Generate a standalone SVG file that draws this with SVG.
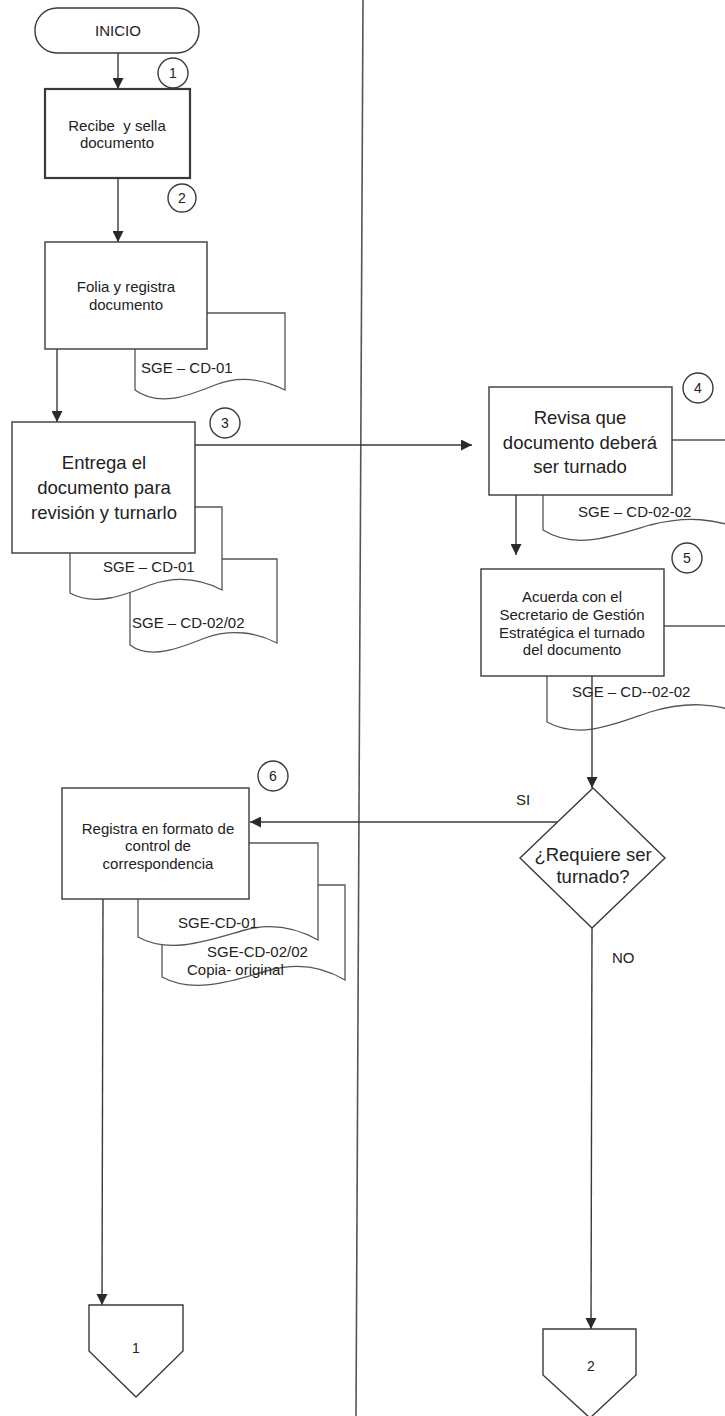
<svg xmlns="http://www.w3.org/2000/svg" width="725" height="1416" viewBox="0 0 725 1416">
<style>
.shape{fill:#fff;stroke:#3a3a3a;stroke-width:1.4}
.thick{stroke-width:2.2}
.doc{fill:#fff;stroke:#555;stroke-width:1.3}
.line{fill:none;stroke:#3a3a3a;stroke-width:1.4}
.t{font-family:"Liberation Sans",Arial,sans-serif;font-size:15px;fill:#222;white-space:pre}
.c{text-anchor:middle}
.big{font-size:18.5px}
.num{font-family:"Liberation Sans",Arial,sans-serif;font-size:14px;fill:#222;text-anchor:middle}
</style>
<defs>
<marker id="arr" viewBox="0 0 10 10" refX="10" refY="5" markerWidth="12" markerHeight="11" markerUnits="userSpaceOnUse" orient="auto">
<path d="M0,0 L10,5 L0,10 Z" fill="#2a2a2a"/>
</marker>
</defs>
<rect width="725" height="1416" fill="#fff"/>
<line x1="363" y1="0" x2="356" y2="1416" stroke="#555" stroke-width="1.6"/>

<g id="inicio">
<rect class="shape" x="35" y="8" width="164" height="45" rx="22"/>
<text class="t c" x="118" y="36">INICIO</text>
</g>
<g id="step1">
<rect class="shape thick" x="45" y="89" width="145" height="89"/>
<text class="t c" x="117" y="131">Recibe&#160; y sella</text>
<text class="t c" x="117" y="148">documento</text>
<circle class="shape" cx="173" cy="73" r="15"/>
<text class="num" x="173" y="78">1</text>
</g>
<g id="step2">
<path class="doc" d="M135,313 H285 V390 C265,380 240,375 215,385 C190,395 160,408 135,390 Z"/>
<text class="t" x="141" y="373">SGE – CD-01</text>
<rect class="shape" x="45" y="242" width="162" height="107"/>
<text class="t c" x="126" y="292">Folia y registra</text>
<text class="t c" x="126" y="310">documento</text>
<circle class="shape" cx="182" cy="198" r="14"/>
<text class="num" x="182" y="203">2</text>
</g>
<g id="step3">
<path class="doc" d="M130,559 H277 V643 C258,633 232,628 205,638 C180,648 150,660 130,645 Z"/>
<text class="t" x="132" y="628">SGE – CD-02/02</text>
<path class="doc" d="M70,507 H222 V590 C203,580 178,575 150,585 C125,595 95,607 70,593 Z"/>
<text class="t" x="103" y="572">SGE – CD-01</text>
<rect class="shape" x="12" y="422" width="183" height="131"/>
<text class="t c big" x="104" y="469">Entrega el</text>
<text class="t c big" x="104" y="494">documento para</text>
<text class="t c big" x="104" y="519">revisión y turnarlo</text>
<circle class="shape" cx="225" cy="423" r="15"/>
<text class="num" x="225" y="428">3</text>
</g>
<g id="step4">
<path class="doc" d="M543,440 H740 V528 C715,520 690,515 650,525 C610,537 575,550 543,530 Z"/>
<text class="t" x="578" y="517">SGE – CD-02-02</text>
<rect class="shape" x="489" y="387" width="183" height="108"/>
<text class="t c big" x="580" y="424">Revisa que</text>
<text class="t c big" x="580" y="449">documento deberá</text>
<text class="t c big" x="580" y="473">ser turnado</text>
<circle class="shape" cx="698" cy="388" r="15"/>
<text class="num" x="698" y="393">4</text>
</g>
<g id="step5">
<path class="doc" d="M547,626 H740 V712 C715,705 690,700 650,712 C615,724 580,740 547,722 Z"/>
<text class="t" x="572" y="697">SGE – CD--02-02</text>
<rect class="shape" x="481" y="569" width="183" height="107"/>
<text class="t c" x="572" y="602">Acuerda con el</text>
<text class="t c" x="572" y="620">Secretario de Gestión</text>
<text class="t c" x="572" y="638">Estratégica el turnado</text>
<text class="t c" x="572" y="655">del documento</text>
<circle class="shape" cx="687" cy="558" r="15"/>
<text class="num" x="687" y="563">5</text>
</g>
<g id="decision">
<path class="shape" d="M593,788 L665,858 L592,928 L520,858 Z"/>
<text class="t c big" x="593" y="861">¿Requiere ser</text>
<text class="t c big" x="593" y="883">turnado?</text>
</g>
<g id="step6">
<path class="doc" d="M162,885 H345 V980 C325,968 300,962 270,970 C235,980 195,995 162,977 Z"/>
<path class="doc" d="M138,843 H318 V940 C300,930 275,922 245,930 C210,940 170,955 138,937 Z"/>
<text class="t" x="178" y="928">SGE-CD-01</text>
<text class="t" x="207" y="957">SGE-CD-02/02</text>
<text class="t" x="187" y="975">Copia- original</text>
<rect class="shape" x="62" y="788" width="187" height="111"/>
<text class="t c" x="158" y="834">Registra en formato de</text>
<text class="t c" x="158" y="851">control de</text>
<text class="t c" x="158" y="869">correspondencia</text>
<circle class="shape" cx="273" cy="776" r="15"/>
<text class="num" x="273" y="781">6</text>
</g>
<g id="off1">
<path class="shape" d="M89,1305 H183 V1351 L136,1397 L89,1351 Z"/>
<text class="num" x="136" y="1353">1</text>
</g>
<g id="off2">
<path class="shape" d="M543,1329 H636 V1375 L590,1418 L543,1375 Z"/>
<text class="num" x="591" y="1371">2</text>
</g>

<g id="connectors">
<line class="line" x1="118" y1="53" x2="118" y2="89" marker-end="url(#arr)"/>
<line class="line" x1="118" y1="178" x2="118" y2="242" marker-end="url(#arr)"/>
<line class="line" x1="57" y1="349" x2="57" y2="422" marker-end="url(#arr)"/>
<line class="line" x1="195" y1="445" x2="472" y2="445" marker-end="url(#arr)"/>
<line class="line" x1="516" y1="495" x2="516" y2="555" marker-end="url(#arr)"/>
<line class="line" x1="592" y1="676" x2="592" y2="788" marker-end="url(#arr)"/>
<line class="line" x1="557" y1="822" x2="250" y2="822" marker-end="url(#arr)"/>
<line class="line" x1="592" y1="928" x2="591" y2="1329" stroke="#666" stroke-width="2" marker-end="url(#arr)"/>
<line class="line" x1="103" y1="899" x2="102" y2="1305" marker-end="url(#arr)"/>
<text class="t" x="516" y="805">SI</text>
<text class="t" x="612" y="963">NO</text>
</g>
</svg>
